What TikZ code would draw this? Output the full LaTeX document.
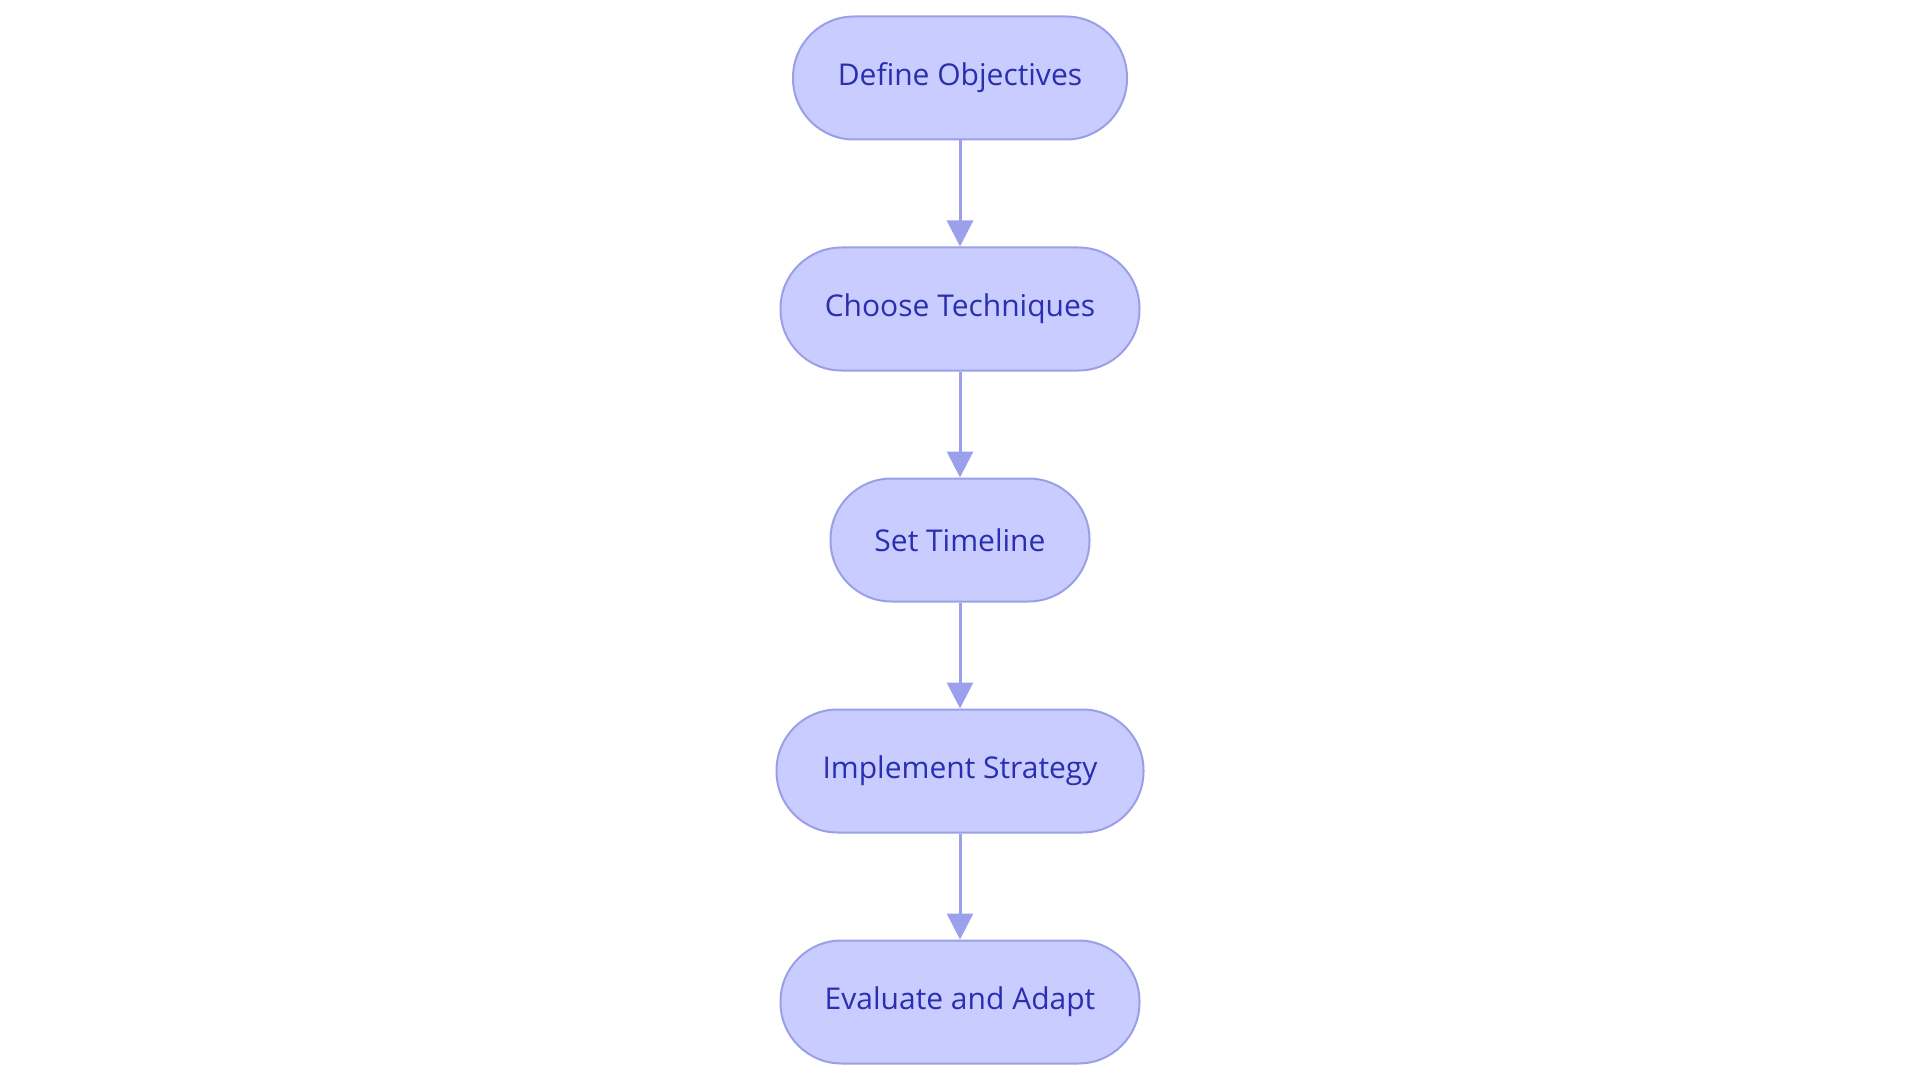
\documentclass[tikz,border=0pt]{standalone}
\usepackage{fontspec}
\setmainfont{Open Sans}
\usetikzlibrary{arrows.meta}
\definecolor{boxfill}{HTML}{C8CCFE}
\definecolor{boxline}{HTML}{9A9FE6}
\definecolor{arrowc}{HTML}{9CA0EC}
\definecolor{txt}{HTML}{2A2FB0}
\begin{document}
\begin{tikzpicture}[x=1pt,y=-1pt,
  stepbox/.style={draw=boxline, line width=2pt, fill=boxfill, rounded corners=61pt,
    minimum height=123pt, inner sep=0pt, text=txt,
    font=\fontsize{30}{34}\selectfont},
  flow/.style={draw=arrowc, line width=3pt, -{Triangle[width=26pt,length=26pt]}}]
\useasboundingbox (0,0) rectangle (1920,1083);
\node[stepbox, minimum width=334pt] (a) at (960,78) {Define Objectives};
\node[stepbox, minimum width=359pt] (b) at (960,309) {Choose Techniques};
\node[stepbox, minimum width=259pt] (c) at (960,540) {Set Timeline};
\node[stepbox, minimum width=367pt] (d) at (960,771) {Implement Strategy};
\node[stepbox, minimum width=359pt] (e) at (960,1002) {Evaluate and Adapt};
\draw[flow] (a) -- (b);
\draw[flow] (b) -- (c);
\draw[flow] (c) -- (d);
\draw[flow] (d) -- (e);
\end{tikzpicture}
\end{document}
